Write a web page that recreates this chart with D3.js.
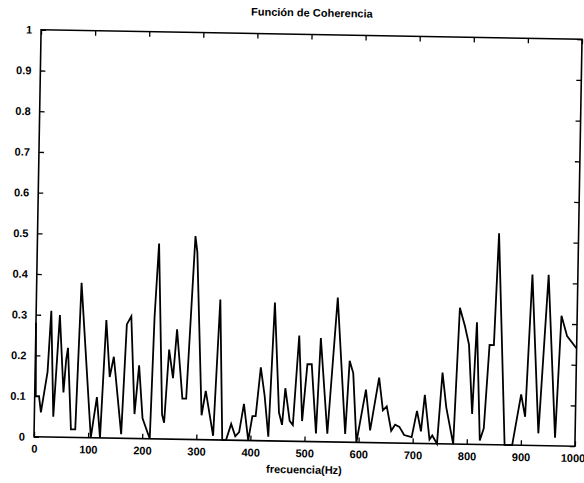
<!DOCTYPE html>
<html>
<head>
<meta charset="utf-8">
<script src="https://cdn.jsdelivr.net/npm/d3@7"></script>
<style>
  body { margin: 0; background: #fff; }
  svg text { font-family: "Liberation Sans", Arial, sans-serif; font-weight: bold; fill: #000; }
</style>
</head>
<body>
<div id="grafico"></div>
<script>
// datos
const frecuencias = [0, 2, 8, 12, 23, 28, 35, 44, 53, 57, 60, 68, 76, 83, 105, 115, 122, 130, 138, 145,
  161, 168, 176, 185, 192, 200, 214, 219, 225, 236, 240, 247, 255, 261, 273, 280, 292, 296, 309, 316,
  331, 340, 348, 355, 364, 372, 379, 387, 396, 403, 409, 417, 425, 433, 441, 452, 458, 463, 472, 478,
  487, 495, 503, 511, 521, 527, 542, 557, 575, 581, 588, 596, 612, 621, 636, 644, 651, 660, 667, 675,
  684, 698, 707, 715, 721, 731, 736, 745, 753, 761, 775, 783, 793, 801, 809, 815, 824, 831, 839, 847,
  853, 870, 884, 899, 907, 916, 932, 946, 963, 971, 982, 1000];
const coherencia = [0.28, 0.10, 0.10, 0.06, 0.16, 0.31, 0.05, 0.30, 0.11, 0.19, 0.22, 0.02, 0.02, 0.38, 0.0, 0.10, 0.0, 0.29, 0.15, 0.20,
  0.01, 0.28, 0.30, 0.06, 0.18, 0.05, 0.0, 0.30, 0.48, 0.06, 0.04, 0.22, 0.15, 0.27, 0.10, 0.10,
  0.50, 0.46, 0.06, 0.12, 0.01, 0.345, 0.0, 0.0, 0.04, 0.01, 0.02, 0.09, 0.0, 0.06,
  0.06, 0.18, 0.11, 0.01, 0.34, 0.07, 0.04, 0.13, 0.05, 0.04, 0.26, 0.05, 0.19, 0.19, 0.02, 0.255,
  0.02, 0.355, 0.02, 0.20, 0.17, 0.0, 0.13, 0.03, 0.16, 0.08, 0.09, 0.03, 0.045, 0.04,
  0.02, 0.015, 0.08, 0.03, 0.12, 0.01, 0.02, 0.0, 0.175, 0.09, 0.0, 0.335, 0.29, 0.245, 0.075, 0.30,
  0.01, 0.04, 0.245, 0.245, 0.52, 0.0, 0.0, 0.125, 0.07, 0.42, 0.03, 0.42, 0.02, 0.32, 0.27, 0.24];
const ticksX = [0, 100, 200, 300, 400, 500, 600, 700, 800, 900, 1000];
const ticksY = [0, 0.1, 0.2, 0.3, 0.4, 0.5, 0.6, 0.7, 0.8, 0.9, 1];

const ancho = 584, alto = 483;
const margen = { left: 37.5, top: 34.5, right: 5.5, bottom: 41.5 };
const w = ancho - margen.left - margen.right;
const h = alto - margen.top - margen.bottom;

const svg = d3.select("#grafico")
  .append("svg")
  .attr("width", ancho)
  .attr("height", alto);

// la figura escaneada esta girada ~1 grado
const hoja = svg.append("g")
  .attr("transform", `rotate(1, ${margen.left + w / 2}, ${margen.top + h / 2})`);

const g = hoja.append("g")
  .attr("transform", `translate(${margen.left},${margen.top})`);

const x = d3.scaleLinear().domain([0, 1000]).range([0, w]);
const y = d3.scaleLinear().domain([0, 1]).range([h, 0]);

const fmtY = d => d === 0 ? "0" : d === 1 ? "1" : d3.format(".1f")(d);

g.append("g")
  .attr("transform", `translate(0,${h})`)
  .call(d3.axisBottom(x).tickValues(ticksX).tickFormat(d3.format("d")).tickSizeInner(-5).tickSizeOuter(0).tickPadding(8))
  .call(a => a.select(".domain").remove())
  .call(a => a.selectAll(".tick text").filter(d => d === 1000).attr("text-anchor", "end").attr("dx", "10"));
g.append("g")
  .call(d3.axisTop(x).tickValues(ticksX).tickSizeInner(-5).tickSizeOuter(0).tickFormat(""))
  .call(a => a.select(".domain").remove());
g.append("g")
  .call(d3.axisLeft(y).tickValues(ticksY).tickFormat(fmtY).tickSizeInner(-5).tickSizeOuter(0).tickPadding(9))
  .call(a => a.select(".domain").remove());
g.append("g")
  .attr("transform", `translate(${w},0)`)
  .call(d3.axisRight(y).tickValues(ticksY).tickSizeInner(-5).tickSizeOuter(0).tickFormat(""))
  .call(a => a.select(".domain").remove());

g.selectAll(".tick line").attr("stroke", "#000").attr("stroke-width", 1.3);
g.selectAll(".tick text").style("font-size", "11px");

g.append("rect")
  .attr("width", w)
  .attr("height", h)
  .attr("fill", "none")
  .attr("stroke", "#000")
  .attr("stroke-width", 1.6);

const puntos = frecuencias.map((f, i) => [f, coherencia[i]]);
const linea = d3.line().x(d => x(d[0])).y(d => y(d[1]));

g.append("path")
  .datum(puntos)
  .attr("d", linea)
  .attr("fill", "none")
  .attr("stroke", "#000")
  .attr("stroke-width", 1.8)
  .attr("stroke-linejoin", "miter");

g.append("text")
  .attr("x", w / 2)
  .attr("y", -18)
  .attr("text-anchor", "middle")
  .style("font-size", "11px")
  .text("Función de Coherencia");

g.append("text")
  .attr("x", w / 2)
  .attr("y", h + 32)
  .attr("text-anchor", "middle")
  .style("font-size", "11px")
  .text("frecuencia(Hz)");
</script>
</body>
</html>
